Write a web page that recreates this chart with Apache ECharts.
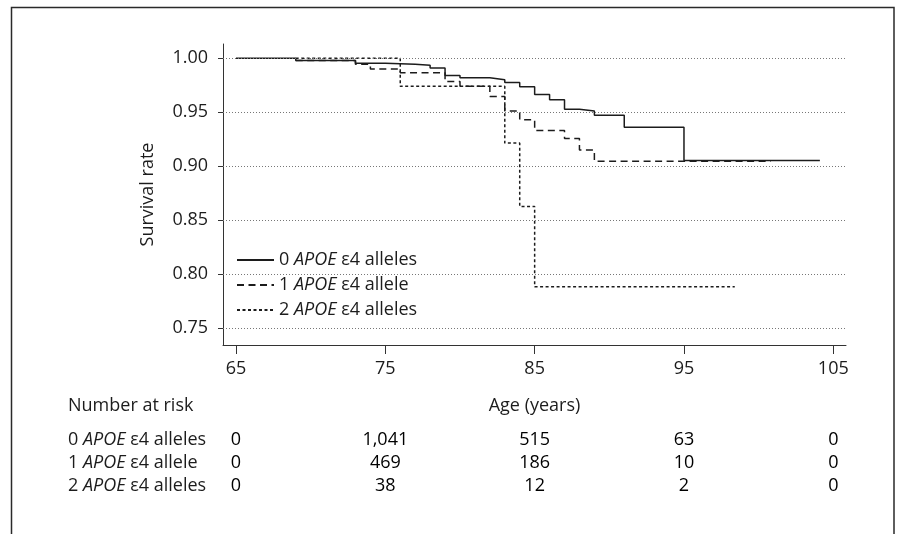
<!DOCTYPE html>
<html><head><meta charset="utf-8">
<script src="https://cdn.jsdelivr.net/npm/echarts@6/dist/echarts.min.js"></script>
<style>html,body{margin:0;padding:0;background:#fff}#c{width:906px;height:534px}</style>
</head><body><div id="c"></div>
<script>
// ---- data ----
const ages0 = [65, 69, 73, 75, 77, 78, 79, 80, 82, 83, 84, 85, 86, 87, 88, 89, 91, 95, 104.1];
const surv0 = [1.000, 0.9978, 0.9954, 0.9944, 0.9935, 0.9910, 0.9840, 0.9818, 0.9800, 0.9776, 0.9735, 0.9664, 0.9614, 0.9528, 0.9510, 0.9472, 0.9360, 0.9052, 0.9052];
const ages1 = [69, 73, 74, 76, 79, 80, 82, 83, 84, 85, 87, 88, 89, 100.8];
const surv1 = [0.9978, 0.9945, 0.9900, 0.9865, 0.9784, 0.9740, 0.9645, 0.9510, 0.9430, 0.9330, 0.9255, 0.9150, 0.9045, 0.9045];
const ages2 = [69, 76, 83, 84, 85, 98.4];
const surv2 = [1.000, 0.974, 0.9213, 0.8626, 0.788, 0.788];
const groupNames = ['0 APOE ε4 alleles', '1 APOE ε4 allele', '2 APOE ε4 alleles'];
const xTicks = [65, 75, 85, 95, 105];
const yTicks = [0.75, 0.80, 0.85, 0.90, 0.95, 1.00];
const riskAges = [65, 75, 85, 95, 105];
const risk0 = [0, 1041, 515, 63, 0];
const risk1 = [0, 469, 186, 10, 0];
const risk2 = [0, 38, 12, 2, 0];

// ---- styling ----
const FONT = 'Open Sans';
const FS = 18;
const INK = '#1c1c1c';
const pair = (xs, ys) => xs.map((x, i) => [x, ys[i]]);
const richLabel = s => s.replace('APOE', '{i|APOE}');
const rich = { i: { fontStyle: 'italic', fontFamily: FONT, fontSize: FS, color: INK } };
const XMIN = 64.13, XMAX = 105.85;

const riskRows = [risk0, risk1, risk2];
const riskData = [];
riskRows.forEach((row, r) => row.forEach((v, i) => riskData.push([riskAges[i], groupNames[r], v])));

const chart = echarts.init(document.getElementById('c'), null, { renderer: 'canvas' });
chart.setOption({
  animation: false,
  backgroundColor: '#fff',
  textStyle: { fontFamily: FONT, color: INK },
  grid: [
    { left: 223, right: 60, top: 44, bottom: 189 },
    { left: 223, right: 60, top: 428.5, height: 69 }
  ],
  xAxis: [
    {
      type: 'value', gridIndex: 0, min: XMIN, max: XMAX,
      axisLine: { show: true, onZero: false, lineStyle: { color: '#333', width: 1 } },
      axisTick: { show: true, customValues: xTicks, length: 9, lineStyle: { color: '#333' } },
      axisLabel: { customValues: xTicks, margin: 15, fontSize: FS, color: INK, fontFamily: FONT },
      splitLine: { show: false },
      name: 'Age (years)', nameLocation: 'middle', nameGap: 52,
      nameTextStyle: { fontSize: FS, color: INK, fontFamily: FONT }
    },
    { type: 'value', gridIndex: 1, min: XMIN, max: XMAX, show: false }
  ],
  yAxis: [
    {
      type: 'value', gridIndex: 0, min: 0.7341, max: 1.0132,
      axisLine: { show: true, lineStyle: { color: '#333', width: 1 } },
      axisTick: { show: true, customValues: yTicks, length: 5, lineStyle: { color: '#333' } },
      axisLabel: { customValues: yTicks, formatter: v => v.toFixed(2), margin: 15, fontSize: FS, color: INK, fontFamily: FONT },
      splitLine: { show: false },
      name: 'Survival rate', nameLocation: 'middle', nameGap: 66, nameRotate: 90,
      nameTextStyle: { fontSize: FS, color: INK, fontFamily: FONT }
    },
    {
      type: 'category', gridIndex: 1, data: groupNames, inverse: true,
      axisLine: { show: false }, axisTick: { show: false }, splitLine: { show: false },
      axisLabel: { interval: 0, hideOverlap: false, align: 'left', margin: 155, fontSize: FS, color: INK, fontFamily: FONT, formatter: richLabel, rich: rich }
    }
  ],
  legend: {
    orient: 'vertical', left: 228, top: 246,
    itemWidth: 37, itemHeight: 14, itemGap: 7,
    padding: [5, 8, 5, 8],
    backgroundColor: '#fff',
    data: groupNames,
    itemStyle: { opacity: 0 },
    formatter: richLabel,
    textStyle: { fontSize: FS, lineHeight: 18, color: INK, fontFamily: FONT, rich: rich }
  },
  graphic: [
    { type: 'rect', shape: { x: 11.5, y: 7.5, width: 882.5, height: 600 }, style: { fill: 'none', stroke: '#2a2a2a', lineWidth: 1.5 }, silent: true },
    { type: 'text', left: 68, top: 397, style: { text: 'Number at risk', fontSize: FS, fontFamily: FONT, fill: INK } }
  ],
  series: [
    {
      name: 'grid', type: 'line', xAxisIndex: 0, yAxisIndex: 0, z: 1, data: [], symbol: 'none',
      silent: true,
      markLine: {
        silent: true, symbol: 'none', label: { show: false },
        lineStyle: { type: [1, 2], color: '#777', width: 1 },
        data: yTicks.map(v => ({ yAxis: v }))
      }
    },
    {
      name: groupNames[0], type: 'line', step: 'end', symbol: 'none', z: 3,
      lineStyle: { color: INK, width: 1.5, type: 'solid' }, itemStyle: { color: INK },
      data: pair(ages0, surv0)
    },
    {
      name: groupNames[1], type: 'line', step: 'end', symbol: 'none', z: 3,
      lineStyle: { color: INK, width: 1.5, type: [7, 4.5] }, itemStyle: { color: INK },
      data: pair(ages1, surv1)
    },
    {
      name: groupNames[2], type: 'line', step: 'end', symbol: 'none', z: 3,
      lineStyle: { color: INK, width: 1.5, type: [3, 2.5] }, itemStyle: { color: INK },
      data: pair(ages2, surv2)
    },
    {
      name: 'risk', type: 'scatter', xAxisIndex: 1, yAxisIndex: 1, symbolSize: 0,
      silent: true,
      itemStyle: { color: INK },
      data: riskData,
      label: {
        show: true, position: [0, 0], align: 'center', verticalAlign: 'middle',
        fontSize: FS, color: '#000', fontFamily: FONT, opacity: 1,
        textBorderWidth: 0,
        formatter: p => p.value[2].toLocaleString('en-US')
      }
    }
  ]
});
</script>
</body></html>
